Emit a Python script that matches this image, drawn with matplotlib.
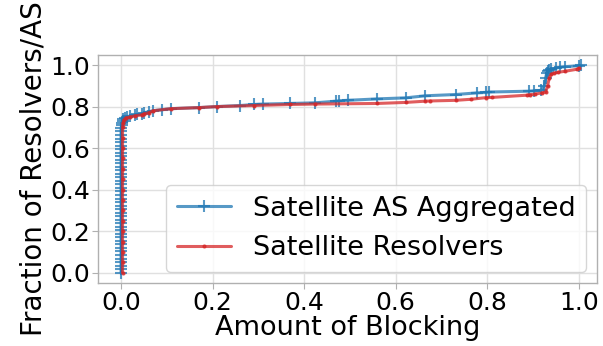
import matplotlib
matplotlib.use("Agg")
import matplotlib.pyplot as plt

# Satellite AS Aggregated (CDF points)
as_x = [0.0, 0.0, 0.0, 0.0, 0.0, 0.0, 0.0, 0.0, 0.0, 0.0, 0.0, 0.0, 0.0, 0.0,
        0.0, 0.0, 0.0, 0.0, 0.0, 0.0, 0.0, 0.0, 0.0, 0.0, 0.0, 0.0, 0.0, 0.0,
        0.0, 0.0, 0.0, 0.0, 0.0, 0.0, 0.0, 0.0, 0.0, 0.0, 0.0, 0.0, 0.0, 0.0,
        0.001, 0.002, 0.003, 0.005, 0.008,
        0.012, 0.02, 0.03, 0.035, 0.045, 0.05, 0.06, 0.07, 0.09, 0.11, 0.17, 0.21,
        0.26, 0.29, 0.31, 0.37, 0.423, 0.47, 0.477, 0.495, 0.56, 0.622, 0.665,
        0.731, 0.778, 0.797, 0.804, 0.891, 0.902, 0.918, 0.925, 0.928, 0.930,
        0.932, 0.935, 0.94, 0.95, 0.96, 0.97, 1.0, 1.005]
as_y = [0.0, 0.017, 0.034, 0.051, 0.068, 0.085, 0.102, 0.119, 0.136, 0.153,
        0.17, 0.187, 0.204, 0.221, 0.238, 0.255, 0.272, 0.289, 0.306, 0.323,
        0.34, 0.357, 0.374, 0.391, 0.408, 0.425, 0.442, 0.459, 0.476, 0.493,
        0.51, 0.527, 0.544, 0.561, 0.578, 0.595, 0.612, 0.629, 0.646, 0.663,
        0.68, 0.695, 0.71,
        0.72, 0.73, 0.74, 0.745, 0.75, 0.755, 0.758, 0.762, 0.765, 0.77, 0.775,
        0.78, 0.785, 0.79, 0.795, 0.80, 0.805, 0.81, 0.812, 0.815, 0.818, 0.826,
        0.828, 0.830, 0.837, 0.842, 0.852, 0.858, 0.866, 0.868, 0.870, 0.874,
        0.876, 0.878, 0.90, 0.94, 0.96, 0.97, 0.975, 0.98, 0.985, 0.99, 0.992,
        0.997, 0.998]

# Satellite Resolvers (CDF points)
res_x = [0.003, 0.003, 0.003, 0.003, 0.003, 0.003, 0.003, 0.003, 0.003, 0.003,
         0.003, 0.003, 0.003, 0.003, 0.003, 0.004, 0.006, 0.01, 0.02, 0.03,
         0.045, 0.05, 0.06, 0.07, 0.11, 0.17, 0.21, 0.29, 0.37, 0.423, 0.56,
         0.622, 0.665, 0.675, 0.731, 0.764, 0.797, 0.81, 0.888, 0.893, 0.905,
         0.92, 0.928, 0.932, 0.936, 0.94, 0.945, 0.955, 0.97, 0.997, 1.0]
res_y = [0.0, 0.05, 0.1, 0.15, 0.2, 0.25, 0.3, 0.35, 0.4, 0.45, 0.5, 0.55, 0.6,
         0.65, 0.7, 0.72, 0.735, 0.745, 0.75, 0.755, 0.76, 0.765, 0.77, 0.78,
         0.79, 0.795, 0.80, 0.805, 0.81, 0.812, 0.815, 0.82, 0.826, 0.827,
         0.83, 0.835, 0.843, 0.844, 0.855, 0.857, 0.86, 0.866, 0.87, 0.90,
         0.94, 0.955, 0.96, 0.965, 0.97, 0.98, 0.985]

plt.style.use("seaborn-v0_8-whitegrid")
plt.rcParams['font.family'] = ['DejaVu Sans']
plt.rcParams['text.color'] = 'black'
plt.rcParams['axes.labelcolor'] = 'black'
plt.rcParams['xtick.color'] = 'black'
plt.rcParams['ytick.color'] = 'black'

fig = plt.figure(figsize=(6.03, 3.46), dpi=100)
ax = fig.add_axes([0.163, 0.182, 0.827, 0.660])

ax.plot(as_x, as_y, color='#1f77b4', alpha=0.75, linewidth=2.2, marker='+',
        markersize=8, markeredgewidth=1.5, label='Satellite AS Aggregated')
ax.plot(res_x, res_y, color='#d62728', alpha=0.75, linewidth=2.2, marker='.',
        markersize=4, label='Satellite Resolvers')

ax.set_xlim(-0.05, 1.04)
ax.set_ylim(-0.05, 1.05)
ax.set_xticks([0.0, 0.2, 0.4, 0.6, 0.8, 1.0])
ax.set_yticks([0.0, 0.2, 0.4, 0.6, 0.8, 1.0])
ax.tick_params(axis='both', labelsize=18, length=4, color='#b0b0b0',
               labelcolor='black', direction='out', left=True, bottom=True, pad=2)
ax.set_xlabel('Amount of Blocking', fontsize=19.5, labelpad=0)
ax.set_ylabel('Fraction of Resolvers/AS', fontsize=20, labelpad=2)
for s in ax.spines.values():
    s.set_visible(True)
    s.set_color('#b0b0b0')
    s.set_linewidth(1.0)
ax.grid(True, color='#e0e0e0', linewidth=1.0)

leg = ax.legend(loc='lower right', fontsize=19.5, frameon=True, fancybox=True,
                handlelength=2.0, borderaxespad=0.4)
leg.get_frame().set_edgecolor('#cccccc')
leg.get_frame().set_facecolor('white')

fig.savefig('out.png', dpi=100)
